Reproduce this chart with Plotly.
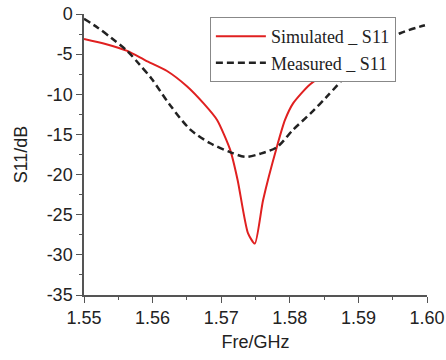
import plotly.graph_objects as go

sim_freq = [1.550, 1.553, 1.5563, 1.559, 1.5621, 1.565, 1.5675, 1.5694, 1.5713, 1.5724,
            1.5739, 1.5749, 1.5761, 1.5781, 1.5793, 1.5805, 1.5829, 1.5876, 1.5905, 1.593]
sim_s11 = [-3.1, -3.7, -4.6, -5.8, -7.1, -9.0, -11.2, -13.2, -16.9, -20.7,
           -27.3, -28.6, -23.2, -16.6, -13.2, -11.1, -8.8, -6.1, -5.0, -4.4]

meas_freq = [1.550, 1.552, 1.554, 1.5563, 1.558, 1.5598, 1.5625, 1.5655, 1.5684, 1.5713,
             1.5735, 1.5757, 1.5781, 1.5805, 1.5830, 1.5854, 1.5888, 1.5895, 1.592,
             1.5961, 1.5997]
meas_s11 = [-0.6, -1.7, -3.0, -4.6, -6.2, -8.0, -11.3, -14.4, -16.1, -17.2,
            -17.8, -17.4, -16.6, -14.4, -12.4, -10.3, -7.0, -6.0, -4.3,
            -2.4, -1.4]

x_ticks = [1.55, 1.56, 1.57, 1.58, 1.59, 1.60]
x_labels = ["1.55", "1.56", "1.57", "1.58", "1.59", "1.60"]
y_ticks = [0, -5, -10, -15, -20, -25, -30, -35]
y_labels = ["0", "-5", "-10", "-15", "-20", "-25", "-30", "-35"]

fig = go.Figure()
fig.add_trace(go.Scatter(x=sim_freq, y=sim_s11, mode="lines", name="Simulated _ S11",
                         line=dict(color="#e02020", width=2, shape="spline", smoothing=0.6)))
fig.add_trace(go.Scatter(x=meas_freq, y=meas_s11, mode="lines", name="Measured _ S11",
                         line=dict(color="#222222", width=2.5, dash="7px,4px",
                                   shape="spline", smoothing=0.8)))

axis_common = dict(showline=True, linecolor="#555555", linewidth=1.5, ticks="outside",
                   ticklen=6, tickwidth=1.2, tickcolor="#555555", showgrid=False,
                   zeroline=False, mirror=False, automargin=False,
                   tickfont=dict(family="Liberation Sans, Arial", size=18, color="#222"))

fig.update_xaxes(range=[1.55, 1.60], tickvals=x_ticks, ticktext=x_labels,
                 minor=dict(dtick=0.005, ticks="outside", ticklen=3, tickcolor="#555555"),
                 title=dict(text="Fre/GHz", standoff=8,
                            font=dict(family="Liberation Sans, Arial", size=18, color="#222")),
                 **axis_common)
fig.update_yaxes(range=[-35, 0], tickvals=y_ticks, ticktext=y_labels,
                 minor=dict(dtick=2.5, ticks="outside", ticklen=3, tickcolor="#555555"),
                 title=dict(text="S11/dB", standoff=14,
                            font=dict(family="Liberation Sans, Arial", size=18, color="#222")),
                 **axis_common)

fig.update_layout(
    width=446, height=360,
    margin=dict(l=84, r=19, t=14, b=65),
    plot_bgcolor="white", paper_bgcolor="white",
    legend=dict(x=0.367, y=0.989, xanchor="left", yanchor="top",
                bordercolor="#888888", borderwidth=1, bgcolor="white",
                font=dict(family="Liberation Serif, Times New Roman", size=18, color="#222"),
                tracegroupgap=0, itemwidth=50),
    showlegend=True,
)

fig.write_html("out.html")
